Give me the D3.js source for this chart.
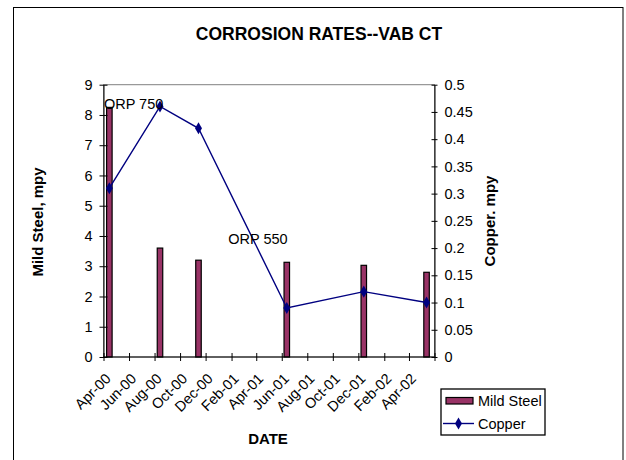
<!DOCTYPE html>
<html>
<head>
<meta charset="utf-8">
<script src="https://cdn.jsdelivr.net/npm/d3@7/dist/d3.min.js"></script>
<style>
  html, body { margin: 0; padding: 0; background: #fff; }
  svg { display: block; font-family: Arial, "Liberation Sans", sans-serif; }
</style>
</head>
<body>
<svg id="chart" width="626" height="460"></svg>
<script>
// ---- data ----
const categories = ["2000-04-15", "2000-08-14", "2000-11-14", "2001-06-13", "2001-12-14", "2002-05-13"];
const mildSteel = [8.25, 3.6, 3.2, 3.13, 3.03, 2.8];
const copper = [0.31, 0.46, 0.42, 0.09, 0.12, 0.10];
const xTickLabels = ["Apr-00", "Jun-00", "Aug-00", "Oct-00", "Dec-00", "Feb-01", "Apr-01", "Jun-01", "Aug-01", "Oct-01", "Dec-01", "Feb-02", "Apr-02", ""];
const leftTicks = [0, 1, 2, 3, 4, 5, 6, 7, 8, 9];
const rightTicks = [0, 0.05, 0.1, 0.15, 0.2, 0.25, 0.3, 0.35, 0.4, 0.45, 0.5];
const annotations = [
  { text: "ORP 750", date: "2000-04-02", value: 8.2 },
  { text: "ORP 550", date: "2001-01-24", value: 3.73 }
];
const seriesNames = ["Mild Steel", "Copper"];

// ---- layout ----
const svg = d3.select("#chart");
const plot = { left: 103.5, right: 434.5, top: 84.7, bottom: 357 };
const parse = d3.timeParse("%Y-%m-%d");
const dates = categories.map(parse);

const x = d3.scaleTime()
  .domain([new Date(2000, 3, 1), new Date(2002, 5, 1)])
  .range([plot.left, plot.right]);
const yL = d3.scaleLinear().domain([0, 9]).range([plot.bottom, plot.top]);
const yR = d3.scaleLinear().domain([0, 0.5]).range([plot.bottom, plot.top]);

// outer border
svg.append("rect").attr("x", 13.5).attr("y", 7.5).attr("width", 609.5).attr("height", 460)
  .attr("fill", "#fff").attr("stroke", "#000").attr("stroke-width", 1);

// title
svg.append("text").attr("x", 319).attr("y", 40).attr("text-anchor", "middle")
  .attr("font-size", "17.5px").attr("font-weight", "bold").text("CORROSION RATES--VAB CT");

// plot area border (gray)
svg.append("rect").attr("x", plot.left).attr("y", plot.top)
  .attr("width", plot.right - plot.left).attr("height", plot.bottom - plot.top)
  .attr("fill", "none").attr("stroke", "#808080").attr("stroke-width", 1);

// bars
const barW = 5.5;
svg.append("g").selectAll("rect").data(mildSteel).join("rect")
  .attr("x", (d, i) => x(dates[i]) - barW / 2)
  .attr("y", d => yL(d))
  .attr("width", barW)
  .attr("height", d => yL(0) - yL(d))
  .attr("fill", "#993366").attr("stroke", "#000").attr("stroke-width", 1.2);

// axes
const tickDates = d3.timeMonth.range(new Date(2000, 3, 1), new Date(2002, 6, 1), 2);
const gx = svg.append("g").attr("transform", `translate(0,${plot.bottom})`)
  .call(d3.axisBottom(x).tickValues(tickDates).tickFormat((d, i) => xTickLabels[i]).tickSizeOuter(0));
gx.select(".domain").attr("stroke", "#000").attr("d", `M${plot.left},0H${plot.right}`);
gx.selectAll(".tick line").attr("y1", -4).attr("y2", 4).attr("stroke", "#000");
gx.selectAll(".tick text")
  .attr("font-size", "14.5px").attr("font-family", "Arial, 'Liberation Sans', sans-serif").attr("fill", "#000")
  .attr("text-anchor", "end")
  .attr("transform", "translate(4,19) rotate(-45)")
  .attr("dy", "0.35em").attr("y", 0).attr("x", 0);

const gl = svg.append("g").attr("transform", `translate(${plot.left},0)`)
  .call(d3.axisLeft(yL).tickValues(leftTicks).tickFormat(d3.format("d")).tickSizeOuter(0));
gl.select(".domain").attr("stroke", "#000");
gl.selectAll(".tick line").attr("x1", -4).attr("x2", 4).attr("stroke", "#000");
gl.selectAll(".tick text").attr("x", -11).attr("font-size", "14.5px")
  .attr("font-family", "Arial, 'Liberation Sans', sans-serif").attr("fill", "#000");

const gr = svg.append("g").attr("transform", `translate(${plot.right},0)`)
  .call(d3.axisRight(yR).tickValues(rightTicks).tickFormat(d => String(+d.toFixed(2))).tickSizeOuter(0));
gr.select(".domain").attr("stroke", "#000");
gr.selectAll(".tick line").attr("x1", -3).attr("x2", 3).attr("stroke", "#000");
gr.selectAll(".tick text").attr("x", 10).attr("font-size", "14.5px")
  .attr("font-family", "Arial, 'Liberation Sans', sans-serif").attr("fill", "#000");

// copper line
const line = d3.line().x((d, i) => x(dates[i])).y(d => yR(d));
svg.append("path").datum(copper).attr("d", line)
  .attr("fill", "none").attr("stroke", "#000080").attr("stroke-width", 1.4);
const diamond = d3.symbol().type(d3.symbolDiamond).size(42);
svg.append("g").selectAll("path").data(copper).join("path")
  .attr("d", diamond)
  .attr("transform", (d, i) => `translate(${x(dates[i])},${yR(d)})`)
  .attr("fill", "#000080");

// annotations
svg.append("g").selectAll("text").data(annotations).join("text")
  .attr("x", d => x(parse(d.date))).attr("y", d => yL(d.value))
  .attr("font-size", "14.5px").attr("fill", "#000").text(d => d.text);

// axis titles
svg.append("text").attr("transform", "translate(43,222) rotate(-90)").attr("text-anchor", "middle")
  .attr("font-size", "15px").attr("font-weight", "bold").text("Mild Steel, mpy");
svg.append("text").attr("transform", "translate(495,221) rotate(-90)").attr("text-anchor", "middle")
  .attr("font-size", "15px").attr("font-weight", "bold").text("Copper. mpy");
svg.append("text").attr("x", 268).attr("y", 444).attr("text-anchor", "middle")
  .attr("font-size", "15px").attr("font-weight", "bold").text("DATE");

// legend
const lg = svg.append("g");
lg.append("rect").attr("x", 441).attr("y", 389).attr("width", 104).attr("height", 46)
  .attr("fill", "#fff").attr("stroke", "#000").attr("stroke-width", 1.3);
lg.append("rect").attr("x", 446).attr("y", 397.5).attr("width", 27).attr("height", 6.5)
  .attr("fill", "#993366").attr("stroke", "#000").attr("stroke-width", 1.2);
lg.append("line").attr("x1", 443).attr("x2", 474).attr("y1", 423.5).attr("y2", 423.5)
  .attr("stroke", "#000080").attr("stroke-width", 1.4);
lg.append("path").attr("d", diamond).attr("transform", "translate(458.5,423.5)").attr("fill", "#000080");
lg.selectAll("text.lbl").data(seriesNames).join("text").attr("class", "lbl")
  .attr("x", 478).attr("y", (d, i) => 401 + i * 22.5).attr("dy", "0.35em")
  .attr("font-size", "14.5px").attr("fill", "#000").text(d => d);
</script>
</body>
</html>
